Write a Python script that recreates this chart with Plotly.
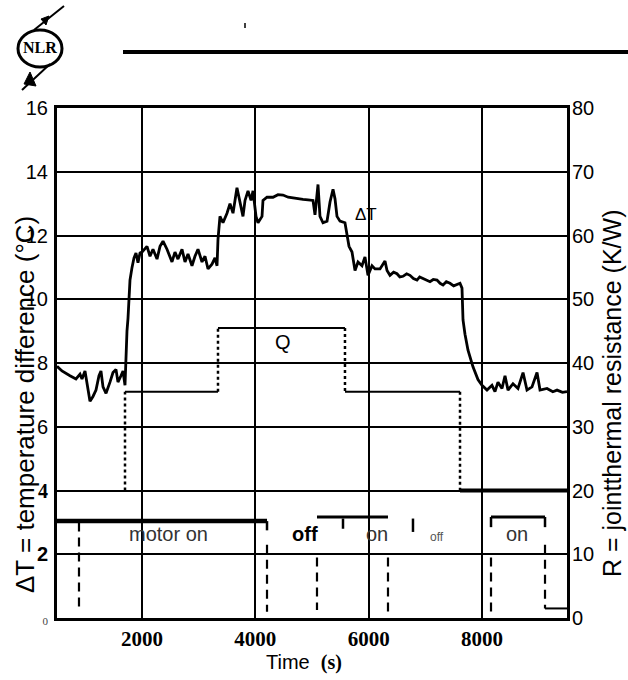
import plotly.graph_objects as go

# ---------------- data ----------------
time_s = [
    500, 588, 729, 835, 906, 941, 994, 1029, 1082, 1135,
    1188, 1241, 1276, 1312, 1365, 1435, 1488, 1541, 1576, 1629,
    1665, 1700, 1718, 1735, 1753, 1771, 1788, 1824, 1859, 1894,
    1929, 1965, 2000, 2088, 2141, 2194, 2265, 2318, 2371, 2441,
    2494, 2529, 2582, 2635, 2706, 2759, 2812, 2882, 2935, 2988,
    3059, 3112, 3165, 3235, 3288, 3324, 3341, 3376, 3429, 3500,
    3553, 3606, 3676, 3729, 3782, 3818, 3871, 3924, 3959, 4012,
    4047, 4118, 4135, 4206, 4312, 4400, 4488, 4580, 4665, 4750,
    4841, 4930, 5018, 5053, 5106, 5141, 5194, 5265, 5318, 5371,
    5406, 5441, 5494, 5582, 5618, 5653, 5706, 5759, 5812, 5882,
    5935, 5988, 6059, 6112, 6200, 6288, 6324, 6376, 6440, 6500,
    6550, 6606, 6670, 6729, 6790, 6853, 6900, 6959, 7020, 7082,
    7140, 7206, 7260, 7312, 7370, 7435, 7500, 7559, 7612, 7647,
    7665, 7700, 7753, 7841, 7929, 8000, 8088, 8176, 8229, 8282,
    8353, 8406, 8459, 8547, 8635, 8724, 8794, 8882, 8971, 9024,
    9147, 9250, 9324, 9420, 9500,
]
delta_T = [
    7.9, 7.75, 7.6, 7.5, 7.65, 7.5, 7.75, 7.4, 6.8, 6.95,
    7.15, 7.6, 7.75, 7.25, 7.05, 7.4, 7.7, 7.8, 7.4, 7.6,
    7.75, 7.3, 8.65, 9.0, 9.4, 10.0, 10.6, 11.0, 11.3, 11.45,
    11.15, 11.45, 11.48, 11.66, 11.35, 11.57, 11.26, 11.66, 11.82, 11.57,
    11.35, 11.17, 11.48, 11.26, 11.57, 11.17, 11.42, 11.05, 11.35, 11.57,
    11.17, 11.35, 10.95, 11.1, 11.3, 11.05, 11.88, 12.6, 12.4, 12.7,
    13.0, 12.7, 13.5, 13.0, 12.6, 13.1, 13.4, 13.1, 13.4, 12.6,
    12.4, 12.6, 13.1, 13.2, 13.2, 13.28, 13.27, 13.2, 13.17, 13.15,
    13.13, 13.12, 13.1, 12.65, 13.6, 12.6, 12.4, 12.45, 13.05, 13.45,
    13.15, 12.6, 12.45, 12.4, 11.98, 11.66, 11.48, 10.9, 11.17, 11.05,
    11.33, 10.75, 11.05, 10.95, 10.95, 11.2, 10.9, 10.75, 10.85, 10.8,
    10.7, 10.72, 10.8, 10.75, 10.65, 10.6, 10.7, 10.65, 10.58, 10.55,
    10.62, 10.6, 10.5, 10.45, 10.55, 10.5, 10.42, 10.45, 10.5, 10.35,
    9.35, 8.9, 8.4, 7.88, 7.48, 7.3, 7.15, 7.3, 7.1, 7.4,
    7.2, 7.6, 7.15, 7.35, 7.2, 7.7, 7.15, 7.25, 7.7, 7.15,
    7.2, 7.1, 7.15, 7.08, 7.1,
]

# Q step curve: switching times and the level held after each switch
q_switch_t = [1700, 3341, 5582, 7612]
q_level_after = [7.1, 9.1, 7.1, 4.0]
q_level_before = 4.0
q_end_t = 9500

# motor on/off indicator (lower band)
motor_bar_t0 = [500, 5088, 8159]
motor_bar_t1 = [4206, 6341, 9112]
motor_bar_y = [3.04, 3.17, 3.17]
motor_tick_t = [4206, 5547, 6782, 8159, 9112]
motor_tick_y0 = [3.04, 3.12, 3.12, 3.17, 3.17]
motor_tick_y1 = [2.75, 2.8, 2.7, 2.85, 2.85]
switch_t = [888, 4206, 5088, 6341, 8159, 9112]
switch_top = [3.0, 2.3, 1.9, 1.9, 1.9, 2.3]
switch_bottom = [0.3, 0.2, 0.25, 0.2, 0.2, 0.3]
end_mark_t = [9112, 9500]
end_mark_y = [0.3, 0.3]

x_ticks = [2000, 4000, 6000, 8000]
left_ticks = [0, 2, 4, 6, 8, 10, 12, 14, 16]
right_ticks = [0, 10, 20, 30, 40, 50, 60, 70, 80]

# ---------------- figure ----------------
fig = go.Figure()

fig.add_trace(go.Scatter(x=time_s, y=delta_T, mode="lines",
                         line=dict(color="black", width=2.8), showlegend=False))

# Q horizontal segments
qh_x, qh_y = [], []
for i, t0 in enumerate(q_switch_t[:-1]):
    t1 = q_switch_t[i + 1]
    qh_x += [t0, t1, None]
    qh_y += [q_level_after[i], q_level_after[i], None]
fig.add_trace(go.Scatter(x=qh_x, y=qh_y, mode="lines",
                         line=dict(color="black", width=2), showlegend=False))
fig.add_trace(go.Scatter(x=[q_switch_t[-1], q_end_t], y=[q_level_after[-1]] * 2, mode="lines",
                         line=dict(color="black", width=4), showlegend=False))
# Q vertical (dotted) transitions
qv_x, qv_y = [], []
prev = q_level_before
for t, lv in zip(q_switch_t, q_level_after):
    qv_x += [t, t, None]
    qv_y += [prev, lv, None]
    prev = lv
fig.add_trace(go.Scatter(x=qv_x, y=qv_y, mode="lines",
                         line=dict(color="black", width=2.5, dash="dot"), showlegend=False))

# motor bars
fig.add_trace(go.Scatter(x=[motor_bar_t0[0], motor_bar_t1[0]], y=[motor_bar_y[0]] * 2, mode="lines",
                         line=dict(color="black", width=4.5), showlegend=False))
mb_x, mb_y = [], []
for t0, t1, y in zip(motor_bar_t0[1:], motor_bar_t1[1:], motor_bar_y[1:]):
    mb_x += [t0, t1, None]
    mb_y += [y, y, None]
fig.add_trace(go.Scatter(x=mb_x, y=mb_y, mode="lines",
                         line=dict(color="black", width=3), showlegend=False))
mt_x, mt_y = [], []
for t, a, b in zip(motor_tick_t, motor_tick_y0, motor_tick_y1):
    mt_x += [t, t, None]
    mt_y += [a, b, None]
fig.add_trace(go.Scatter(x=mt_x, y=mt_y, mode="lines",
                         line=dict(color="black", width=2.5), showlegend=False))
sw_x, sw_y = [], []
for t, a, b in zip(switch_t, switch_top, switch_bottom):
    sw_x += [t, t, None]
    sw_y += [a, b, None]
fig.add_trace(go.Scatter(x=sw_x, y=sw_y, mode="lines",
                         line=dict(color="black", width=2.2, dash="9px,6px"), showlegend=False))
fig.add_trace(go.Scatter(x=end_mark_t, y=end_mark_y, mode="lines",
                         line=dict(color="black", width=2), showlegend=False))

# right axis carrier (R = 5 * dT scale)
fig.add_trace(go.Scatter(x=[x_ticks[0]], y=[0], yaxis="y2", mode="markers",
                         marker=dict(opacity=0), showlegend=False, hoverinfo="skip"))

SANS = "Liberation Sans, Arial, sans-serif"
SERIF = "Liberation Serif, Times New Roman, serif"

left_text = []
for v in left_ticks:
    if v == 0:
        left_text.append('<span style="font-family:Liberation Serif;font-size:11px;color:#444">0</span>')
    elif v == 4:
        left_text.append('<span style="font-family:Liberation Serif"><b>4</b></span>')
    elif v == 2:
        left_text.append('<b>2</b>')
    else:
        left_text.append(str(v))

fig.update_layout(
    width=628, height=680,
    margin=dict(l=57, r=61, t=108, b=62),
    paper_bgcolor="white", plot_bgcolor="white",
    font=dict(family=SANS, color="black"),
    xaxis=dict(range=[500, 9500], tickvals=x_ticks, ticktext=[str(v) for v in x_ticks],
               tickfont=dict(family=SERIF, size=21, weight="bold", color="black"),
               showgrid=True, gridcolor="black", gridwidth=2, zeroline=False,
               showline=True, linecolor="black", linewidth=3, mirror=True, ticks=""),
    yaxis=dict(range=[0, 16], tickvals=left_ticks, ticktext=left_text,
               tickfont=dict(family=SANS, size=20, color="black"),
               showgrid=True, gridcolor="black", gridwidth=2, zeroline=False,
               showline=True, linecolor="black", linewidth=3, mirror=True, ticks="",
               ticklabelstandoff=2),
    yaxis2=dict(range=[0, 80], tickvals=right_ticks, overlaying="y", side="right",
                tickfont=dict(family=SANS, size=20, color="black"),
                showgrid=False, zeroline=False, showline=False, ticks="",
                ticklabelstandoff=4),
)

def px(xp):
    return (xp - 57) / 510

def py(yp):
    return (618 - yp) / 510

C = dict(xanchor="center", yanchor="middle", showarrow=False)
annotations = [
    dict(text="ΔT = temperature difference (°C)", x=px(25), y=py(405), xref="paper", yref="paper",
         textangle=-90, font=dict(family=SANS, size=26, color="black"), **C),
    dict(text="R = jointthermal resistance (K/W)", x=px(612), y=py(394), xref="paper", yref="paper",
         textangle=-90, font=dict(family=SANS, size=25, color="black"), **C),
    dict(text='Time  <span style="font-family:Liberation Serif"><b>(s)</b></span>', x=px(304), y=py(662),
         xref="paper", yref="paper", font=dict(family=SANS, size=20, color="black"), **C),
    dict(text="motor on", x=2459, y=2.62, xref="x", yref="y",
         font=dict(family=SANS, size=20, color="#333"), **C),
    dict(text="<b>off</b>", x=4876, y=2.65, xref="x", yref="y",
         font=dict(family=SANS, size=20, color="black"), **C),
    dict(text="on", x=6147, y=2.62, xref="x", yref="y",
         font=dict(family=SANS, size=20, color="#333"), **C),
    dict(text="off", x=7206, y=2.55, xref="x", yref="y",
         font=dict(family=SANS, size=12, color="#555"), **C),
    dict(text="on", x=8618, y=2.62, xref="x", yref="y",
         font=dict(family=SANS, size=20, color="#333"), **C),
    dict(text="Q", x=4488, y=8.65, xref="x", yref="y",
         font=dict(family=SANS, size=20, color="black"), **C),
    dict(text="ΔT", x=5953, y=12.65, xref="x", yref="y",
         font=dict(family=SANS, size=17, color="black"), **C),
    dict(text="<b>NLR</b>", x=px(40), y=py(48), xref="paper", yref="paper",
         font=dict(family=SERIF, size=16, color="black"), **C),
]
fig.update_layout(annotations=annotations)

shapes = [
    dict(type="line", xref="paper", yref="paper", x0=px(123), x1=px(628), y0=py(52), y1=py(52),
         line=dict(color="black", width=4)),
    dict(type="circle", xref="paper", yref="paper", x0=px(18), x1=px(62), y0=py(67), y1=py(30),
         line=dict(color="black", width=3)),
    dict(type="line", xref="paper", yref="paper", x0=px(34), x1=px(64), y0=py(30), y1=py(6),
         line=dict(color="black", width=2)),
    dict(type="path", xref="paper", yref="paper",
         path=f"M {px(41)},{py(19)} L {px(49)},{py(16)} L {px(46)},{py(25)} Z",
         fillcolor="black", line=dict(color="black", width=1)),
    dict(type="line", xref="paper", yref="paper", x0=px(50), x1=px(22), y0=py(64), y1=py(90),
         line=dict(color="black", width=2)),
    dict(type="path", xref="paper", yref="paper",
         path=f"M {px(30)},{py(72)} L {px(36)},{py(86)} L {px(24)},{py(84)} Z",
         fillcolor="black", line=dict(color="black", width=1)),
    dict(type="line", xref="paper", yref="paper", x0=px(245), x1=px(245), y0=py(23), y1=py(28),
         line=dict(color="black", width=1.5)),
]
fig.update_layout(shapes=shapes)

fig.write_html("out.html")
